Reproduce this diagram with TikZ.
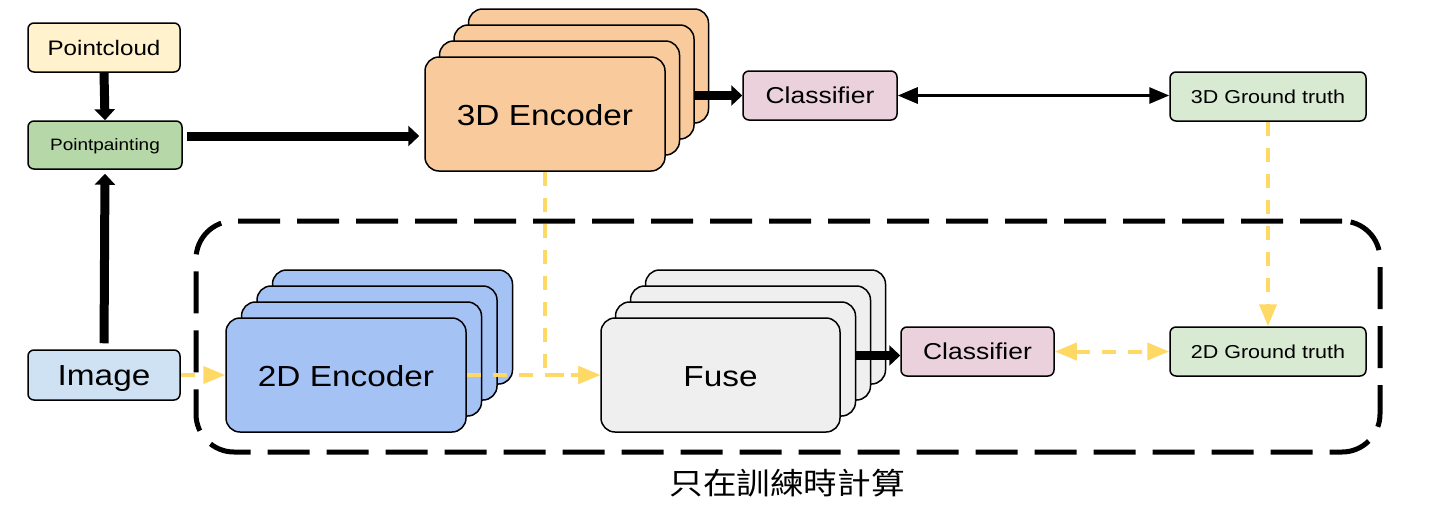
\documentclass[tikz,border=0pt]{standalone}
\usepackage{fontspec}
\setmainfont{Liberation Sans}[FakeStretch=1.15]
\newfontfamily\cjk{Noto Sans CJK TC}[FakeStretch=1.12]
\usetikzlibrary{arrows.meta}
\definecolor{cPc}{HTML}{FFF2CC}
\definecolor{cPp}{HTML}{B6D7A8}
\definecolor{cImg}{HTML}{CFE2F3}
\definecolor{cE3}{HTML}{F9CB9C}
\definecolor{cE2}{HTML}{A4C2F4}
\definecolor{cFu}{HTML}{EFEFEF}
\definecolor{cCl}{HTML}{EAD1DC}
\definecolor{cGt}{HTML}{D9EAD3}
\definecolor{cY}{HTML}{FFD966}
\tikzset{
  box/.style={draw=black, line width=1.5pt, rounded corners=6pt, inner sep=0pt, align=center},
  card/.style={draw=black, line width=1.5pt, rounded corners=14pt, minimum width=240pt, minimum height=114pt, inner sep=0pt},
  fA/.style={font=\fontsize{29}{34}\selectfont, text height=20.8pt, text depth=0pt},
  fB/.style={font=\fontsize{23}{27}\selectfont, text height=16.5pt, text depth=0pt},
  fC/.style={font=\fontsize{21}{25}\selectfont, text height=15pt, text depth=0pt},
  fD/.style={font=\fontsize{16.5}{20}\selectfont, text height=11.8pt, text depth=0pt},
  fE/.style={font=\fontsize{18.7}{22}\selectfont, text height=13.4pt, text depth=0pt},
  fat/.style={line width=9pt, -{Triangle[length=11pt 0,width=20pt 0]}},
  thinboth/.style={line width=3pt, {Triangle[length=20pt 0,width=16pt 0]}-{Triangle[length=20pt 0,width=16pt 0]}},
  yarrow/.style={draw=cY, line width=4pt, dash pattern=on 14pt off 12pt, -{Triangle[length=22pt 0,width=17pt 0]}},
  yboth/.style={draw=cY, line width=4pt, dash pattern=on 14pt off 12pt, {Triangle[length=22pt 0,width=17pt 0]}-{Triangle[length=22pt 0,width=17pt 0]}},
}
\begin{document}
\begin{tikzpicture}[x=1pt,y=-1pt]
\useasboundingbox (0,0) rectangle (1443,507);

% small boxes
\node[box, fill=cPc, fC, minimum width=152pt, minimum height=49pt] (pc) at (104,47.5) {Pointcloud};
\node[box, fill=cPp, fD, minimum width=154pt, minimum height=48pt] (pp) at (105,145) {Pointpainting};
\node[box, fill=cImg, fA, minimum width=152pt, minimum height=50pt] (img) at (104,375) {Image};
\node[box, fill=cCl, fB, minimum width=154pt, minimum height=49pt] (cls1) at (820,95.5) {Classifier};
\node[box, fill=cGt, fE, minimum width=196pt, minimum height=49pt] (gt3) at (1268,96.5) {3D Ground truth};
\node[box, fill=cCl, fB, minimum width=153pt, minimum height=49pt] (cls2) at (977.5,351.5) {Classifier};
\node[box, fill=cGt, fE, minimum width=196pt, minimum height=49pt] (gt2) at (1268,351.5) {2D Ground truth};

% card stacks
\foreach \k in {3,2,1} {
  \node[card, fill=cE3] (e3-\k) at ({545+14.5*\k},{114-16*\k}) {};
  \node[card, fill=cE2] (e2-\k) at ({346+15.5*\k},{375-16*\k}) {};
  \node[card, fill=cFu] (fu-\k) at ({720.5+15*\k},{375-16*\k}) {};
}
\node[card, fill=cE3, fA, text height=23.8pt] (e3) at (545,114) {3D Encoder};
\node[card, fill=cE2, fA, text height=22pt] (e2) at (346,375) {2D Encoder};
\node[card, fill=cFu, fA, text height=22pt, minimum width=239pt] (fu) at (720.5,375) {Fuse};

% black arrows
\draw[fat] (pc.south) -- (pp.north);
\draw[fat, shorten <=6pt, shorten >=4pt] (img.north) -- (pp.south);
\draw[fat, shorten <=4pt, shorten >=5pt] ([yshift=9pt]pp.east) -- ([yshift=9pt]e3.west |- pp.east);
\draw[fat] (e3-2.east |- cls1.west) -- (cls1.west);
\draw[fat] ([yshift=-4pt]fu-1.east |- cls2.west) -- ([yshift=-4pt]cls2.west);
\draw[thinboth] (cls1.east) -- (gt3.west |- cls1.east);

% yellow dashed
\draw[yarrow] (img.east) -- (img.east -| e2.west);
\draw[yarrow] (e2.east) -- (fu.west);
\draw[yarrow] (e3.south) |- (fu.west);
\draw[yarrow] (gt3.south) -- (gt2.north);
\draw[yboth] (cls2.east) -- (gt2.west);

% training region
\node[draw=black, line width=5pt, dash pattern=on 42pt off 17pt, rounded corners=38pt,
      minimum width=1184pt, minimum height=231pt, inner sep=0pt] (train) at (788,336.5) {};
\node[font=\cjk\fontsize{30}{34}\selectfont, inner sep=0pt] (lbl) at (787,483) {只在訓練時計算};
\end{tikzpicture}
\end{document}
